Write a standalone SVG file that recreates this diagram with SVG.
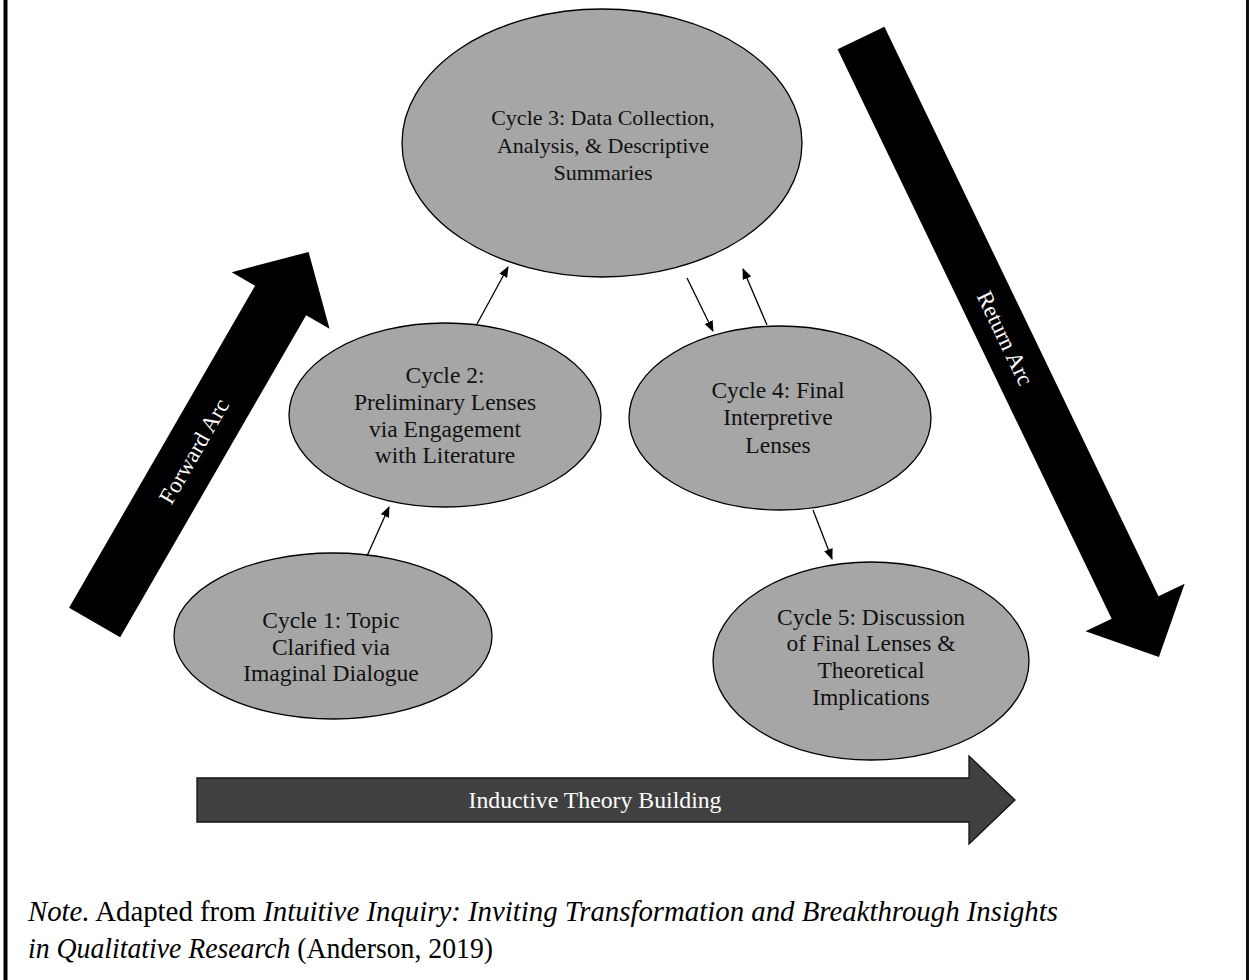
<svg xmlns="http://www.w3.org/2000/svg" width="1249" height="980" viewBox="0 0 1249 980">
<style>
.node ellipse{fill:#a6a6a6;stroke:#000;stroke-width:1.3}
.lbl{font-family:"Liberation Serif","Times New Roman",serif;font-size:23.5px;fill:#111;text-anchor:middle}
.wl{font-family:"Liberation Serif","Times New Roman",serif;fill:#fff;text-anchor:middle}
.conn line{stroke:#000;stroke-width:1.3;marker-end:url(#ah)}
.note{font-family:"Liberation Serif","Times New Roman",serif;font-size:28.8px;fill:#000}
</style>
<defs>
<marker id="ah" markerUnits="userSpaceOnUse" markerWidth="11" markerHeight="9" viewBox="0 0 11 9" refX="10" refY="4.5" orient="auto">
<path d="M0,0 L11,4.5 L0,9 z" fill="#000"/>
</marker>
</defs>
<rect x="0" y="0" width="1249" height="980" fill="#fff"/>
<rect x="3.5" y="0" width="4" height="980" fill="#000"/>
<rect x="1246" y="0" width="3" height="980" fill="#111"/>

<g id="forward-arc">
<path transform="translate(94.6,622.6) rotate(-60)" d="M0,-29.5 L372,-29.5 L372,-56.5 L428,0 L372,56.5 L372,29.5 L0,29.5 z" fill="#000"/>
<text class="wl" font-size="23" transform="translate(94.6,622.6) rotate(-60) translate(198,8)">Forward Arc</text>
</g>

<g id="return-arc">
<path transform="translate(861,38) rotate(64.3)" d="M0,-26 L632,-26 L632,-55 L687,0 L632,55 L632,26 L0,26 z" fill="#000"/>
<text class="wl" font-size="23" transform="translate(861,38) rotate(64.3) translate(333,8)">Return Arc</text>
</g>

<g id="inductive-arrow">
<path d="M197,778 L969,778 L969,756 L1015,800 L969,844 L969,822 L197,822 z" fill="#404040" stroke="#111" stroke-width="1.3"/>
<text class="wl" x="595" y="808" font-size="24" textLength="253" lengthAdjust="spacingAndGlyphs">Inductive Theory Building</text>
</g>

<g id="cycle3" class="node">
<ellipse cx="602" cy="143" rx="200" ry="134"/>
<text class="lbl" font-size="22"><tspan x="603" y="125" font-size="22">Cycle 3: Data Collection,</tspan><tspan x="603" y="153" font-size="22">Analysis, &amp; Descriptive</tspan><tspan x="603" y="180" font-size="22">Summaries</tspan></text>
</g>

<g id="cycle2" class="node">
<ellipse cx="445" cy="415" rx="156" ry="92"/>
<text class="lbl"><tspan x="445" y="383">Cycle 2:</tspan><tspan x="445" y="410">Preliminary Lenses</tspan><tspan x="445" y="437">via Engagement</tspan><tspan x="445" y="463">with Literature</tspan></text>
</g>

<g id="cycle4" class="node">
<ellipse cx="780" cy="418" rx="151" ry="92"/>
<text class="lbl"><tspan x="778" y="398">Cycle 4: Final</tspan><tspan x="778" y="425">Interpretive</tspan><tspan x="778" y="453">Lenses</tspan></text>
</g>

<g id="cycle1" class="node">
<ellipse cx="333" cy="636" rx="159" ry="83"/>
<text class="lbl"><tspan x="331" y="628">Cycle 1: Topic</tspan><tspan x="331" y="655">Clarified via</tspan><tspan x="331" y="681">Imaginal Dialogue</tspan></text>
</g>

<g id="cycle5" class="node">
<ellipse cx="871" cy="661" rx="158" ry="99"/>
<text class="lbl"><tspan x="871" y="625">Cycle 5: Discussion</tspan><tspan x="871" y="651">of Final Lenses &amp;</tspan><tspan x="871" y="678">Theoretical</tspan><tspan x="871" y="705">Implications</tspan></text>
</g>

<g id="connectors" class="conn">
<line x1="367" y1="556" x2="389" y2="507"/>
<line x1="477" y1="324" x2="508" y2="267"/>
<line x1="687" y1="278" x2="713" y2="331"/>
<line x1="767" y1="325" x2="743" y2="269"/>
<line x1="813" y1="510" x2="832" y2="559"/>
</g>

<g id="note">
<text class="note" x="28" y="921" textLength="1030" lengthAdjust="spacingAndGlyphs"><tspan font-style="italic">Note.</tspan> Adapted from <tspan font-style="italic">Intuitive Inquiry: Inviting Transformation and Breakthrough Insights</tspan></text>
<text class="note" x="28" y="958" textLength="465" lengthAdjust="spacingAndGlyphs"><tspan font-style="italic">in Qualitative Research</tspan> (Anderson, 2019)</text>
</g>
</svg>
